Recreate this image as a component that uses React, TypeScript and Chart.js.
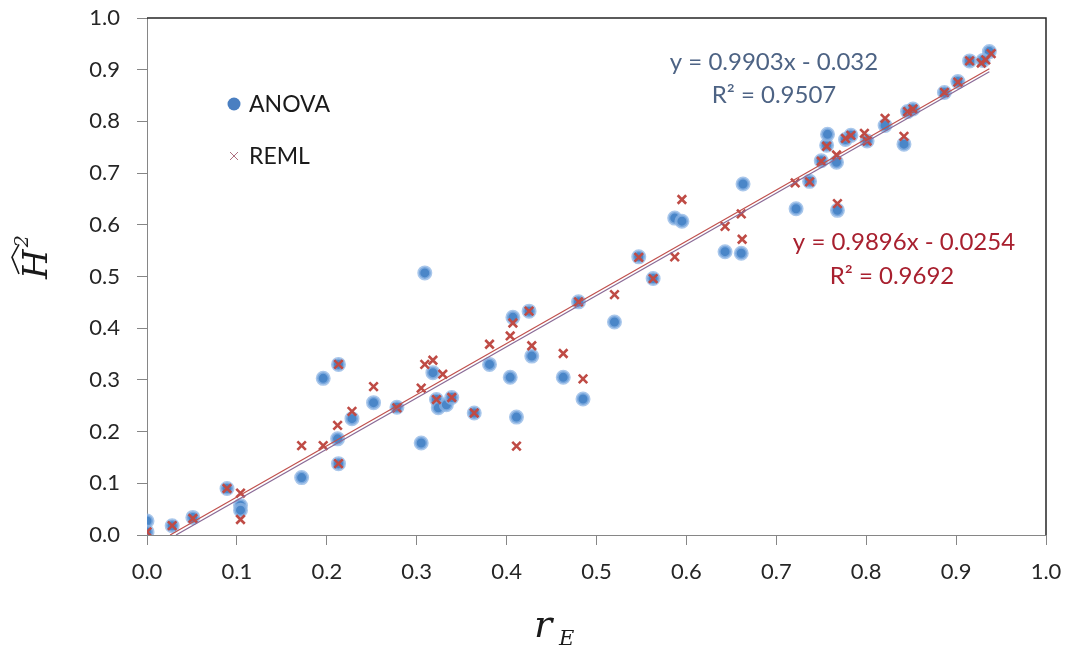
import React, { useEffect, useRef } from 'react';
import { Chart, registerables } from 'chart.js';

Chart.register(...registerables);

// ---- data ----
const anovaX = [
  0.0, 0.0, 0.028, 0.051, 0.089, 0.104, 0.104, 0.172, 0.196, 0.213,
  0.212, 0.213, 0.228, 0.252, 0.278, 0.305, 0.309, 0.318, 0.322, 0.324,
  0.333, 0.339, 0.364, 0.381, 0.404, 0.407, 0.411, 0.425, 0.428, 0.463,
  0.48, 0.485, 0.52, 0.547, 0.563, 0.587, 0.595, 0.643, 0.661, 0.663,
  0.722, 0.737, 0.75, 0.756, 0.757, 0.767, 0.768, 0.777, 0.783, 0.801,
  0.821, 0.842, 0.846, 0.852, 0.887, 0.902, 0.915, 0.937, 0.93,
];
const anovaY = [
  0.027, 0.006, 0.018, 0.034, 0.09, 0.057, 0.048, 0.111, 0.303, 0.33,
  0.186, 0.138, 0.225, 0.256, 0.247, 0.178, 0.507, 0.314, 0.262, 0.246,
  0.252, 0.266, 0.236, 0.33, 0.305, 0.421, 0.228, 0.433, 0.346, 0.305,
  0.451, 0.263, 0.412, 0.538, 0.496, 0.613, 0.607, 0.548, 0.545, 0.679,
  0.631, 0.684, 0.724, 0.754, 0.775, 0.721, 0.628, 0.765, 0.773, 0.762,
  0.792, 0.756, 0.819, 0.824, 0.856, 0.877, 0.917, 0.935, 0.918,
];
const remlX = [
  0.0, 0.028, 0.051, 0.089, 0.104, 0.104, 0.172, 0.196, 0.213, 0.212,
  0.213, 0.228, 0.252, 0.278, 0.305, 0.309, 0.318, 0.322, 0.329, 0.339,
  0.364, 0.381, 0.404, 0.407, 0.411, 0.425, 0.428, 0.463, 0.48, 0.485,
  0.52, 0.547, 0.563, 0.587, 0.595, 0.643, 0.662, 0.661, 0.721, 0.737,
  0.75, 0.756, 0.767, 0.768, 0.777, 0.783, 0.798, 0.801, 0.821, 0.842,
  0.846, 0.852, 0.887, 0.902, 0.915, 0.928, 0.933, 0.939,
];
const remlY = [
  0.006, 0.018, 0.032, 0.09, 0.081, 0.03, 0.173, 0.173, 0.33, 0.212,
  0.138, 0.239, 0.287, 0.246, 0.284, 0.33, 0.338, 0.262, 0.311, 0.266,
  0.236, 0.369, 0.385, 0.41, 0.172, 0.433, 0.366, 0.351, 0.451, 0.302,
  0.465, 0.537, 0.496, 0.538, 0.649, 0.597, 0.572, 0.621, 0.681, 0.683,
  0.723, 0.752, 0.735, 0.641, 0.767, 0.773, 0.777, 0.762, 0.806, 0.771,
  0.819, 0.824, 0.856, 0.876, 0.917, 0.913, 0.919, 0.931,
];
const seriesNames = ['ANOVA', 'REML'];
const fitSlope = [0.9903, 0.9896];
const fitIntercept = [-0.032, -0.0254];
const fitStartX = [0.0323, 0.0257];
const fitEndX = [0.937, 0.937];
const fitEquations = ['y = 0.9903x - 0.032', 'y = 0.9896x - 0.0254'];
const fitR2 = ['R² = 0.9507', 'R² = 0.9692'];
const axisMin = 0;
const axisMax = 1;
const axisStep = 0.1;

const FONT = 'Lato, "Noto Sans", sans-serif';
const SERIF = '"DejaVu Serif", "Liberation Serif", serif';

const fitLine = (i: number) => [
  { x: fitStartX[i], y: fitSlope[i] * fitStartX[i] + fitIntercept[i] },
  { x: fitEndX[i], y: fitSlope[i] * fitEndX[i] + fitIntercept[i] },
];

const decorPlugin = {
  id: 'decor',
  afterDraw(chart: any) {
    const ctx = chart.ctx as CanvasRenderingContext2D;
    const a = chart.chartArea;
    ctx.save();
    // top & right frame
    ctx.strokeStyle = '#262626';
    ctx.lineWidth = 1.5;
    ctx.beginPath();
    ctx.moveTo(a.left, a.top);
    ctx.lineTo(a.right, a.top);
    ctx.lineTo(a.right, a.bottom);
    ctx.stroke();

    // legend
    const lx = a.left + 87;
    ctx.fillStyle = '#4A7FC1';
    ctx.beginPath();
    ctx.arc(lx, 104, 6.5, 0, Math.PI * 2);
    ctx.fill();
    ctx.strokeStyle = '#B07080';
    ctx.lineWidth = 1;
    ctx.beginPath();
    ctx.moveTo(lx - 4, 152);
    ctx.lineTo(lx + 4, 160);
    ctx.moveTo(lx + 4, 152);
    ctx.lineTo(lx - 4, 160);
    ctx.stroke();
    ctx.fillStyle = '#1a1a1a';
    ctx.font = `23px ${FONT}`;
    ctx.textAlign = 'left';
    ctx.textBaseline = 'alphabetic';
    ctx.fillText(seriesNames[0], lx + 15, 112);
    ctx.fillText(seriesNames[1], lx + 15, 164);

    // equations
    ctx.font = `24px ${FONT}`;
    ctx.textAlign = 'center';
    ctx.fillStyle = '#4D6384';
    ctx.fillText(fitEquations[0], 774, 70);
    ctx.fillText(fitR2[0], 774, 103);
    ctx.fillStyle = '#A8202F';
    ctx.fillText(fitEquations[1], 904, 250);
    ctx.fillText(fitR2[1], 892, 284);

    // x title r_E
    ctx.fillStyle = '#1a1a1a';
    ctx.textAlign = 'left';
    ctx.font = `italic 38px ${SERIF}`;
    ctx.fillText('r', 534, 637);
    ctx.font = `italic 21px ${SERIF}`;
    ctx.fillText('E', 559, 645);

    // y title H-hat ^2 (rotated)
    ctx.save();
    ctx.translate(47, 279);
    ctx.rotate(-Math.PI / 2);
    ctx.font = `italic 34px ${SERIF}`;
    ctx.fillText('H', 0, 0);
    const hw = ctx.measureText('H').width;
    ctx.font = `italic 19px ${SERIF}`;
    ctx.fillText('2', hw + 2, -19);
    // wide hat
    ctx.strokeStyle = '#1a1a1a';
    ctx.lineWidth = 1.6;
    ctx.beginPath();
    ctx.moveTo(5, -28);
    ctx.lineTo(5 + hw / 2 + 2, -35);
    ctx.lineTo(hw + 5, -28);
    ctx.stroke();
    ctx.restore();

    ctx.restore();
  },
};

export default function App() {
  const ref = useRef<HTMLCanvasElement | null>(null);
  useEffect(() => {
    document.body.style.margin = '0';
    const canvas = ref.current;
    if (!canvas) return;
    const tickFmt = (v: any) => Number(v).toFixed(1);
    const chart = new Chart(canvas, {
      type: 'scatter',
      data: {
        datasets: [
          {
            type: 'line',
            label: 'fit ANOVA',
            data: fitLine(0),
            borderColor: '#8A6A96',
            borderWidth: 1.2,
            pointRadius: 0,
            fill: false,
            order: 0,
          } as any,
          {
            type: 'line',
            label: 'fit REML',
            data: fitLine(1),
            borderColor: '#C0504D',
            borderWidth: 1.2,
            pointRadius: 0,
            fill: false,
            order: 0,
          } as any,
          {
            label: seriesNames[1],
            data: remlX.map((x, i) => ({ x, y: remlY[i] })),
            pointStyle: 'crossRot',
            pointRadius: 6,
            borderColor: '#BF4B45',
            borderWidth: 2.6,
            order: 1,
          },
          {
            label: seriesNames[0],
            data: anovaX.map((x, i) => ({ x, y: anovaY[i] })),
            pointStyle: 'circle',
            pointRadius: 6,
            backgroundColor: '#4A86C8',
            borderColor: 'rgba(140,180,228,0.75)',
            borderWidth: 3,
            order: 2,
          },
        ],
      },
      options: {
        animation: false,
        responsive: false,
        devicePixelRatio: 1,
        layout: { padding: { left: 0, top: 18, right: 23, bottom: 0 } },
        plugins: { legend: { display: false }, tooltip: { enabled: false } },
        scales: {
          x: {
            type: 'linear',
            min: axisMin,
            max: axisMax,
            ticks: {
              stepSize: axisStep,
              callback: tickFmt,
              font: { family: FONT, size: 22 },
              color: '#262626',
              padding: 14,
              maxRotation: 0,
            },
            grid: { drawOnChartArea: false, drawTicks: true, tickLength: 10, color: '#868686' },
            border: { color: '#868686', width: 1 },
            afterFit: (s: any) => {
              s.height = 111;
              s.paddingLeft = 0;
              s.paddingRight = 0;
            },
          },
          y: {
            type: 'linear',
            min: axisMin,
            max: axisMax,
            ticks: {
              stepSize: axisStep,
              callback: tickFmt,
              font: { family: FONT, size: 22 },
              color: '#262626',
              padding: 17,
            },
            grid: { drawOnChartArea: false, drawTicks: true, tickLength: 10, color: '#868686' },
            border: { color: '#868686', width: 1 },
            afterFit: (s: any) => {
              s.width = 147;
              s.paddingTop = 0;
              s.paddingBottom = 0;
            },
          },
        },
      },
      plugins: [decorPlugin],
    });
    return () => chart.destroy();
  }, []);
  return (
    <div style={{ position: 'absolute', left: 0, top: 0, width: 1069, height: 646, background: '#fff' }}>
      <canvas ref={ref} width={1069} height={646} />
    </div>
  );
}
